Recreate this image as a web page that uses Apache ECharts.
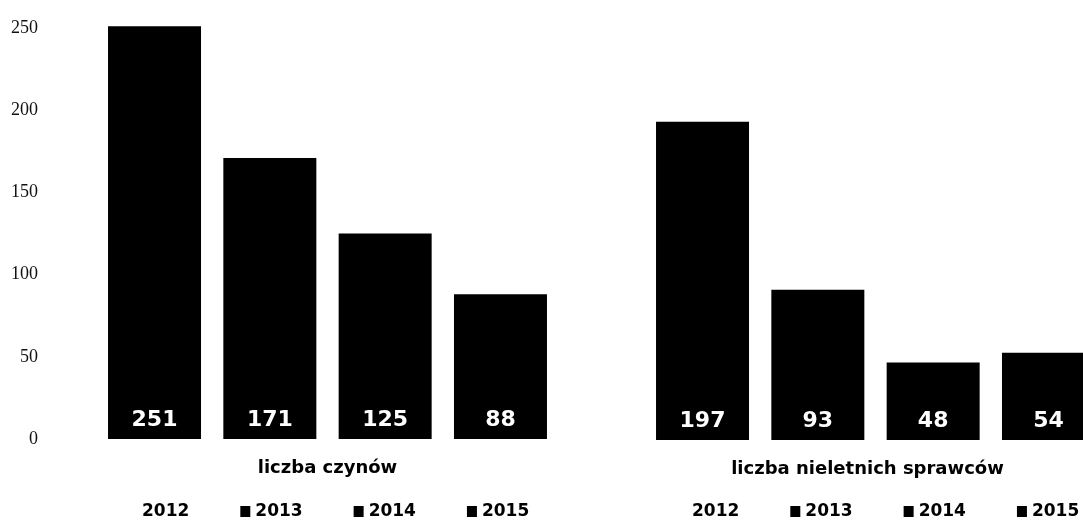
<!DOCTYPE html>
<html>
<head>
<meta charset="utf-8">
<script src="https://cdn.jsdelivr.net/npm/echarts@6/dist/echarts.min.js"></script>
<style>
  html, body { margin: 0; padding: 0; background: #ffffff; }
  #chart { width: 1083px; height: 521px; }
</style>
</head>
<body>
<div id="chart"></div>
<script>
// Juvenile offences, 2012-2015: number of acts and number of juvenile offenders
const categoriesActs = ['liczba czynów'];
const categoriesOffenders = ['liczba nieletnich sprawców'];
const years = ['2012', '2013', '2014', '2015'];
const actsValues = [251, 171, 125, 88];
const offendersValues = [197, 93, 48, 54];
const yMin = 0;
const yMax = 250;
const yStep = 50;

const chart = echarts.init(document.getElementById('chart'), null, { renderer: 'canvas' });

const boldSans = 'DejaVu Sans';

function barSeries(values, axisIndex) {
  return years.map((year, i) => ({
    type: 'bar',
    name: year,
    xAxisIndex: axisIndex,
    yAxisIndex: axisIndex,
    data: [values[i]],
    barWidth: 93,
    barGap: '24%',
    clip: false,
    itemStyle: { color: '#000000' },
    emphasis: { disabled: true },
    label: {
      show: true,
      position: 'insideBottom',
      distance: 8,
      color: '#ffffff',
      fontFamily: boldSans,
      fontWeight: 'bold',
      fontSize: 22
    }
  }));
}

function legendFor(left) {
  return {
    left: left,
    top: 503,
    width: 440,
    padding: 0,
    orient: 'horizontal',
    icon: 'rect',
    itemWidth: 10,
    itemHeight: 11,
    itemGap: 51,
    selectedMode: false,
    textStyle: { fontFamily: boldSans, fontWeight: 'bold', fontSize: 17, color: '#000000' },
    data: [{ name: years[0], itemStyle: { opacity: 0 } }].concat(years.slice(1))
  };
}

const categoryLabel = {
  fontFamily: boldSans,
  fontWeight: 'bold',
  fontSize: 18,
  color: '#000000',
  margin: 20
};

const option = {
  backgroundColor: '#ffffff',
  animation: false,
  grid: [
    { left: 60, width: 535, top: 28, bottom: 82, containLabel: false },
    // the bar group is centred on this grid and runs past the right edge
    { left: 668, right: 0, top: 36, bottom: 81, containLabel: false }
  ],
  legend: [legendFor(127), legendFor(677)],
  xAxis: [
    {
      type: 'category', gridIndex: 0, data: categoriesActs,
      axisLine: { show: false }, axisTick: { show: false },
      axisLabel: categoryLabel
    },
    {
      type: 'category', gridIndex: 1, data: categoriesOffenders,
      axisLine: { show: false }, axisTick: { show: false },
      axisLabel: Object.assign({}, categoryLabel, { padding: [0, 16, 0, 0] })
    }
  ],
  yAxis: [
    {
      type: 'value', gridIndex: 0, min: yMin, max: yMax, interval: yStep,
      axisLine: { show: false }, axisTick: { show: false }, splitLine: { show: false },
      axisLabel: {
        fontFamily: 'Liberation Serif',
        fontSize: 18,
        color: '#111111',
        align: 'right',
        margin: 22,
        padding: [0, 0, 7, 0]
      }
    },
    {
      type: 'value', gridIndex: 1, min: yMin, max: yMax, interval: yStep,
      axisLine: { show: false }, axisTick: { show: false }, splitLine: { show: false },
      axisLabel: { show: false }
    }
  ],
  series: barSeries(actsValues, 0).concat(barSeries(offendersValues, 1))
};

chart.setOption(option);
</script>
</body>
</html>
